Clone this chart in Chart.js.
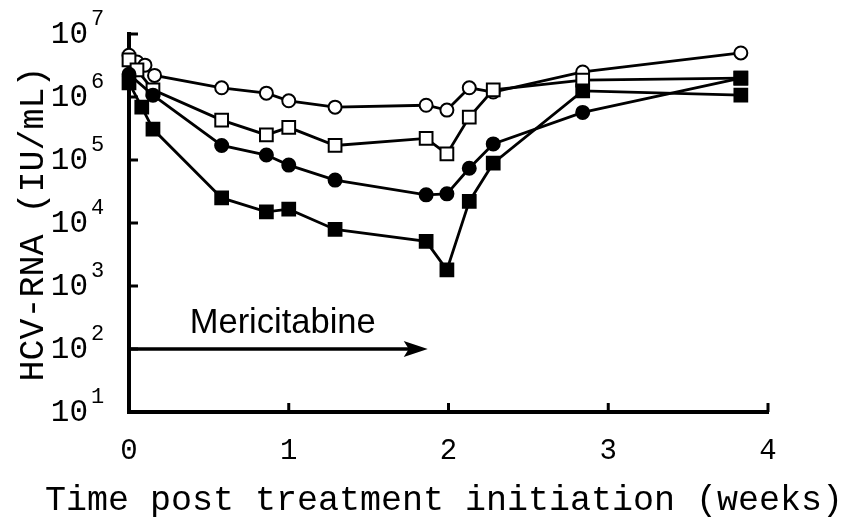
<!DOCTYPE html>
<html>
<head>
<meta charset="utf-8">
<script src="https://cdn.jsdelivr.net/npm/chart.js@4.4.0/dist/chart.umd.min.js"></script>
<style>
  body { margin: 0; background: #fff; }
</style>
</head>
<body>
<canvas id="chart" width="853" height="523"></canvas>
<script>
// weeks and HCV-RNA values (IU/mL) per patient
const openCircleWeeks = [0, 0.05, 0.1, 0.16, 0.58, 0.86, 1.0, 1.29, 1.86, 1.99, 2.13, 2.28, 2.84, 3.83];
const openCircleValues = [4.6e6, 3.6e6, 3.2e6, 2.2e6, 1.4e6, 1.15e6, 8.7e5, 6.9e5, 7.4e5, 6.2e5, 1.4e6, 1.2e6, 2.5e6, 5.0e6];

const openSquareWeeks = [0, 0.05, 0.15, 0.58, 0.86, 1.0, 1.29, 1.86, 1.99, 2.13, 2.28, 2.84, 3.83];
const openSquareValues = [3.9e6, 2.7e6, 1.3e6, 4.3e5, 2.5e5, 3.3e5, 1.7e5, 2.2e5, 1.25e5, 4.8e5, 1.3e6, 1.85e6, 2.0e6];

const filledCircleWeeks = [0, 0.15, 0.58, 0.86, 1.0, 1.29, 1.86, 1.99, 2.13, 2.28, 2.84, 3.83];
const filledCircleValues = [2.3e6, 1.07e6, 1.7e5, 1.2e5, 8.3e4, 4.8e4, 2.8e4, 2.9e4, 7.4e4, 1.8e5, 5.7e5, 2.0e6];

const filledSquareWeeks = [0, 0.08, 0.15, 0.58, 0.86, 1.0, 1.29, 1.86, 1.99, 2.13, 2.28, 2.84, 3.83];
const filledSquareValues = [1.67e6, 6.9e5, 3.1e5, 2.5e4, 1.5e4, 1.66e4, 7.9e3, 5.1e3, 1.8e3, 2.2e4, 8.9e4, 1.25e6, 1.07e6];

const xTickValues = [0, 1, 2, 3, 4];
const yDecades = [10, 100, 1000, 10000, 100000, 1000000, 10000000];

const xTitle = 'Time post treatment initiation (weeks)';
const yTitle = 'HCV-RNA (IU/mL)';

// treatment arrow
const arrowStart = 0;
const arrowEnd = 1.87;
const arrowLevel = 100;
const arrowText = 'Mericitabine';

function pts(xs, ys) {
  return xs.map((x, i) => ({ x: x, y: ys[i] }));
}

const decor = {
  id: 'decor',
  afterDraw(chart) {
    const ctx = chart.ctx;
    const area = chart.chartArea;
    const x = chart.scales.x;
    const y = chart.scales.y;
    ctx.save();
    ctx.strokeStyle = '#000';
    ctx.fillStyle = '#000';
    ctx.lineWidth = 3;

    // inward ticks
    yDecades.forEach(v => {
      const py = y.getPixelForValue(v);
      ctx.beginPath();
      ctx.moveTo(area.left, py);
      ctx.lineTo(area.left + 9, py);
      ctx.stroke();
    });
    xTickValues.forEach(v => {
      if (v === 0) return;
      const px = x.getPixelForValue(v);
      ctx.beginPath();
      ctx.moveTo(px, area.bottom);
      ctx.lineTo(px, area.bottom - 9);
      ctx.stroke();
    });

    // y labels 10^n
    yDecades.forEach(v => {
      const py = y.getPixelForValue(v);
      const exp = String(Math.round(Math.log10(v)));
      ctx.font = '31px "Liberation Mono"';
      ctx.textAlign = 'right';
      ctx.textBaseline = 'middle';
      ctx.fillText('10', 88, py + 1);
      ctx.font = '22px "Liberation Mono"';
      ctx.textAlign = 'left';
      ctx.fillText(exp, 91, py - 15);
    });

    // axis titles
    ctx.font = '35px "Liberation Mono"';
    ctx.textAlign = 'center';
    ctx.textBaseline = 'alphabetic';
    ctx.fillText(xTitle, 444, 510);
    ctx.save();
    ctx.translate(43, 224);
    ctx.rotate(-Math.PI / 2);
    ctx.fillText(yTitle, 0, 0);
    ctx.restore();

    // arrow
    const ax0 = x.getPixelForValue(arrowStart);
    const ax1 = x.getPixelForValue(arrowEnd);
    const ay = y.getPixelForValue(arrowLevel);
    ctx.lineWidth = 3.5;
    ctx.beginPath();
    ctx.moveTo(ax0, ay);
    ctx.lineTo(ax1 - 10, ay);
    ctx.stroke();
    ctx.beginPath();
    ctx.moveTo(ax1, ay);
    ctx.lineTo(ax1 - 24, ay - 8);
    ctx.lineTo(ax1 - 19, ay);
    ctx.lineTo(ax1 - 24, ay + 8);
    ctx.closePath();
    ctx.fill();

    ctx.font = '34.5px "Liberation Sans"';
    ctx.textAlign = 'left';
    ctx.textBaseline = 'alphabetic';
    ctx.fillText(arrowText, x.getPixelForValue(0.38), ay - 16);
    ctx.restore();
  }
};

const lineCommon = {
  borderColor: '#000',
  borderWidth: 2.8,
  pointBorderColor: '#000',
  pointBorderWidth: 2,
  tension: 0,
  clip: false
};

const filledCircleStyles = filledCircleWeeks.map((w, i) => i === filledCircleWeeks.length - 1 ? 'rect' : 'circle');
const filledCircleRadii = filledCircleWeeks.map((w, i) => i === filledCircleWeeks.length - 1 ? 9 : 6.5);

new Chart(document.getElementById('chart'), {
  type: 'line',
  data: {
    datasets: [
      Object.assign({
        label: 'filled squares',
        data: pts(filledSquareWeeks, filledSquareValues),
        pointStyle: 'rect',
        pointRadius: 9,
        pointBackgroundColor: '#000'
      }, lineCommon),
      Object.assign({
        label: 'filled circles',
        data: pts(filledCircleWeeks, filledCircleValues),
        pointStyle: filledCircleStyles,
        pointRadius: filledCircleRadii,
        pointBackgroundColor: '#000'
      }, lineCommon),
      Object.assign({
        label: 'open squares',
        data: pts(openSquareWeeks, openSquareValues),
        pointStyle: 'rect',
        pointRadius: 9,
        pointBackgroundColor: '#fff'
      }, lineCommon),
      Object.assign({
        label: 'open circles',
        data: pts(openCircleWeeks, openCircleValues),
        pointStyle: 'circle',
        pointRadius: 6.5,
        pointBackgroundColor: '#fff'
      }, lineCommon)
    ]
  },
  options: {
    responsive: false,
    animation: false,
    layout: { padding: { top: 34, right: 85, left: 0, bottom: 0 } },
    plugins: {
      legend: { display: false },
      tooltip: { enabled: false }
    },
    scales: {
      x: {
        type: 'linear',
        min: 0,
        max: 4,
        afterBuildTicks: s => { s.ticks = xTickValues.map(v => ({ value: v })); },
        afterFit: s => { s.height = 111; },
        grid: { display: false },
        border: { display: true, color: '#000', width: 4 },
        ticks: {
          color: '#000',
          font: { family: 'Liberation Mono', size: 29 },
          padding: 14,
          maxRotation: 0
        },
        title: { display: false }
      },
      y: {
        type: 'logarithmic',
        min: 10,
        max: 1e7,
        afterFit: s => { s.width = 129; },
        grid: { display: false },
        border: { display: true, color: '#000', width: 4 },
        ticks: { display: false },
        title: { display: false }
      }
    }
  },
  plugins: [decor]
});
</script>
</body>
</html>
